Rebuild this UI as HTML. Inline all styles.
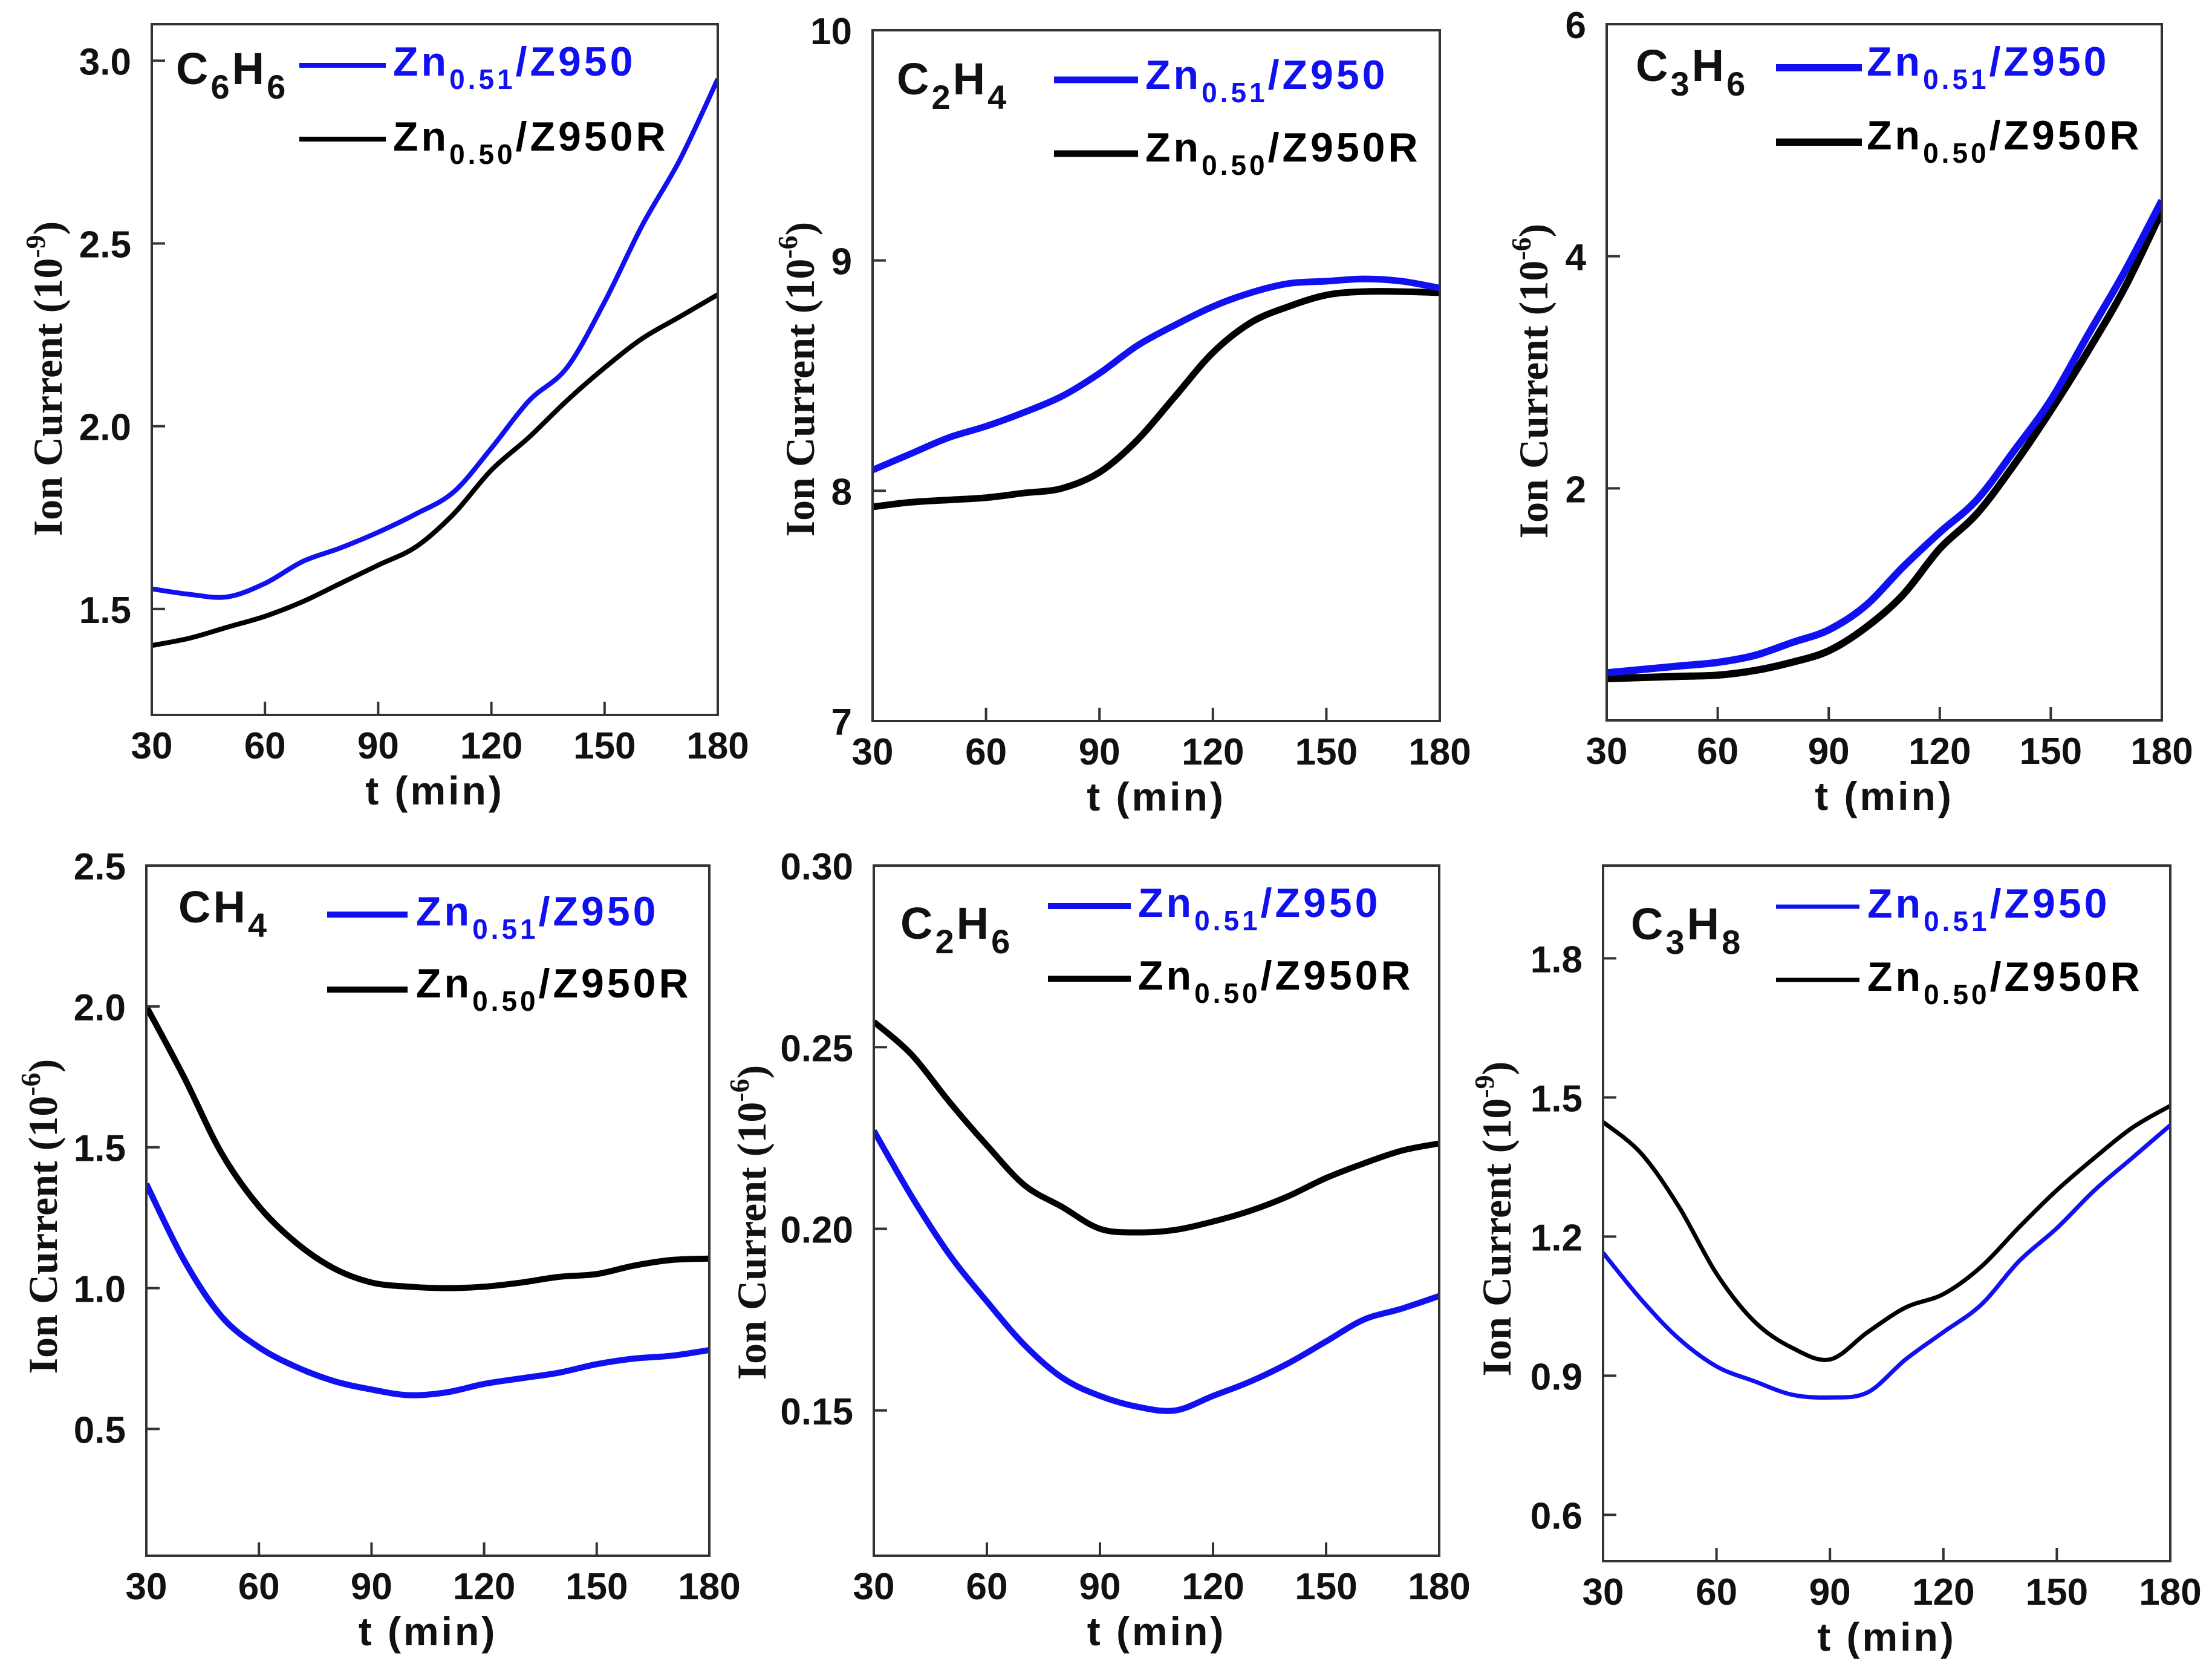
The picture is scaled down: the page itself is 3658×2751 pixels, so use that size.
<!DOCTYPE html>
<html><head><meta charset="utf-8"><style>
html,body{margin:0;padding:0;background:#fff;}
svg{display:block;}
text{font-family:"Liberation Sans",Arial,sans-serif;font-weight:bold;}
.serif{font-family:"Liberation Serif","Times New Roman",serif;font-weight:bold;}
</style></head><body>
<svg id="fig" xmlns="http://www.w3.org/2000/svg" width="3658" height="2751" viewBox="0 0 3658 2751"></svg>
<script>
const tValues=[30,40,50,60,70,80,90,100,110,120,130,140,150,160,170,180];
const xTicks=[30,60,90,120,150,180];
const c6h6Blue=[1.555,1.54,1.533,1.57,1.63,1.667,1.71,1.76,1.82,1.94,2.07,2.16,2.34,2.55,2.73,2.95];
const c6h6Black=[1.40,1.42,1.45,1.48,1.52,1.57,1.62,1.67,1.76,1.88,1.97,2.07,2.16,2.24,2.30,2.36];
const c2h4Blue=[8.09,8.16,8.23,8.28,8.34,8.41,8.51,8.63,8.72,8.80,8.86,8.90,8.91,8.92,8.91,8.88];
const c2h4Black=[7.93,7.95,7.96,7.97,7.99,8.01,8.08,8.22,8.41,8.60,8.73,8.80,8.85,8.865,8.865,8.86];
const c3h6Blue=[0.41,0.44,0.47,0.50,0.56,0.67,0.78,0.99,1.32,1.62,1.90,2.32,2.76,3.32,3.87,4.48];
const c3h6Black=[0.36,0.37,0.38,0.39,0.43,0.50,0.60,0.80,1.08,1.48,1.78,2.20,2.67,3.18,3.73,4.39];
const ch4Blue=[1.37,1.10,0.90,0.79,0.72,0.67,0.64,0.62,0.63,0.66,0.68,0.70,0.73,0.75,0.76,0.78];
const ch4Black=[2.0,1.75,1.48,1.29,1.16,1.07,1.02,1.005,1.0,1.005,1.02,1.04,1.05,1.08,1.10,1.105];
const c2h6Blue=[0.227,0.209,0.193,0.180,0.168,0.159,0.154,0.151,0.150,0.154,0.158,0.163,0.169,0.175,0.178,0.1815];
const c2h6Black=[0.257,0.248,0.235,0.223,0.212,0.206,0.200,0.199,0.1997,0.202,0.205,0.209,0.214,0.218,0.2215,0.2235];
const c3h8Blue=[1.165,1.065,0.98,0.92,0.888,0.859,0.853,0.864,0.935,0.994,1.053,1.147,1.218,1.30,1.37,1.44];
const c3h8Black=[1.447,1.38,1.265,1.12,1.017,0.96,0.935,0.994,1.047,1.076,1.135,1.22,1.30,1.37,1.435,1.482];
const c6h6Ticks=["1.5","2.0","2.5","3.0"];
const c2h4Ticks=["7","8","9","10"];
const c3h6Ticks=["2","4","6"];
const ch4Ticks=["0.5","1.0","1.5","2.0","2.5"];
const c2h6Ticks=["0.15","0.20","0.25","0.30"];
const c3h8Ticks=["0.6","0.9","1.2","1.5","1.8"];

const panels=[
 {id:'c6h6',L:251,R:1187,T:40,B:1182,ymin:1.21,ymax:3.10,ticks:c6h6Ticks,blue:c6h6Blue,black:c6h6Black,exp:'-9',sub:['C','6','H','6'],lw:8,
  yt:{x:80,y:626},cmp:{dx:40,dy:99},ln:{x1:495,x2:638,by:68,ky:190},tx:{x:650,by:85,ky:209}},
 {id:'c2h4',L:1443,R:2381,T:50,B:1192,ymin:7,ymax:10,ticks:c2h4Ticks,blue:c2h4Blue,black:c2h4Black,exp:'-6',sub:['C','2','H','4'],lw:11,
  yt:{x:1324,y:627},cmp:{dx:40,dy:106},ln:{x1:1743,x2:1882,by:82,ky:204},tx:{x:1894,by:97,ky:217}},
 {id:'c3h6',L:2657,R:3575,T:40,B:1191,ymin:0,ymax:6,ticks:c3h6Ticks,blue:c3h6Blue,black:c3h6Black,exp:'-6',sub:['C','3','H','6'],lw:12,
  yt:{x:2537,y:630},cmp:{dx:48,dy:94},ln:{x1:2937,x2:3079,by:72,ky:195},tx:{x:3087,by:85,ky:207}},
 {id:'ch4',L:242,R:1173,T:1431,B:2572,ymin:0.05,ymax:2.5,ticks:ch4Ticks,blue:ch4Blue,black:ch4Black,exp:'-6',sub:['CH','4'],lw:10,
  yt:{x:72,y:2011},cmp:{dx:53,dy:94},ln:{x1:541,x2:674,by:81,ky:205},tx:{x:688,by:99,ky:218}},
 {id:'c2h6',L:1445,R:2380,T:1431,B:2572,ymin:0.11,ymax:0.30,ticks:c2h6Ticks,blue:c2h6Blue,black:c2h6Black,exp:'-6',sub:['C','2','H','6'],lw:10,
  yt:{x:1244,y:2021},cmp:{dx:44,dy:121},ln:{x1:1733,x2:1870,by:67,ky:187},tx:{x:1882,by:85,ky:205}},
 {id:'c3h8',L:2651,R:3589,T:1431,B:2581,ymin:0.5,ymax:2.0,ticks:c3h8Ticks,blue:c3h8Blue,black:c3h8Black,exp:'-9',sub:['C','3','H','8'],lw:7,
  yt:{x:2476,y:2015},cmp:{dx:46,dy:122},ln:{x1:2937,x2:3075,by:68,ky:189},tx:{x:3088,by:86,ky:207}}
];
const NS='http://www.w3.org/2000/svg';
const svg=document.getElementById('fig');
function mk(tag,attrs,parent){const e=document.createElementNS(NS,tag);for(const k in attrs)e.setAttribute(k,attrs[k]);(parent||svg).appendChild(e);return e;}
function smooth(pts){let d='M'+pts[0][0].toFixed(1)+','+pts[0][1].toFixed(1);
 for(let i=0;i<pts.length-1;i++){const p0=pts[Math.max(0,i-1)],p1=pts[i],p2=pts[i+1],p3=pts[Math.min(pts.length-1,i+2)];
  const c1=[p1[0]+(p2[0]-p0[0])/6,p1[1]+(p2[1]-p0[1])/6],c2=[p2[0]-(p3[0]-p1[0])/6,p2[1]-(p3[1]-p1[1])/6];
  d+=' C'+c1[0].toFixed(1)+','+c1[1].toFixed(1)+' '+c2[0].toFixed(1)+','+c2[1].toFixed(1)+' '+p2[0].toFixed(1)+','+p2[1].toFixed(1);}
 return d;}
panels.forEach(p=>{
 const g=mk('g',{});
 
 
 const xs=t=>p.L+(t-30)/150*(p.R-p.L);
 const ys=v=>p.B-(v-p.ymin)/(p.ymax-p.ymin)*(p.B-p.T);
 const clip=mk('clipPath',{id:'cl-'+p.id},g);
 mk('rect',{x:p.L,y:p.T,width:p.R-p.L,height:p.B-p.T},clip);
 [['black',p.black,'#000'],['blue',p.blue,'#1010f0']].forEach(([nm,arr,col])=>{
  const pts=tValues.map((t,i)=>[xs(t),ys(arr[i])]);
  const path=mk('path',{d:smooth(pts),fill:'none',stroke:col,'stroke-width':p.lw,'stroke-linejoin':'round','clip-path':'url(#cl-'+p.id+')'},g);
  
  
 });
 const fr=mk('rect',{x:p.L,y:p.T,width:p.R-p.L,height:p.B-p.T,fill:'none',stroke:'#333','stroke-width':4},g);
 
 
 xTicks.forEach(t=>{const x=xs(t);
  mk('line',{x1:x,x2:x,y1:p.B,y2:p.B-22,stroke:'#333','stroke-width':4},g);
  const tx=mk('text',{x:x,y:p.B+72,'font-size':62,'text-anchor':'middle',fill:'#111'},g);
  tx.textContent=t;
  
  
 });
 p.ticks.forEach(s=>{const y=ys(parseFloat(s));
  mk('line',{x1:p.L,x2:p.L+22,y1:y,y2:y,stroke:'#333','stroke-width':4},g);
  const tx=mk('text',{x:p.L-34,y:y+23,'font-size':62,'text-anchor':'end',fill:'#111'},g);
  tx.textContent=s;
  
  
 });
 const xt=mk('text',{x:(p.L+p.R)/2,y:p.B+148,'font-size':66,'letter-spacing':4,'text-anchor':'middle',fill:'#111'},g);
 xt.textContent='t (min)';
 
 
 const yt=mk('text',{x:0,y:0,'font-size':68,'text-anchor':'middle',class:'serif',fill:'#111',transform:'translate('+(p.yt.x+22)+','+p.yt.y+') rotate(-90)'},g);
 
 
 const a=mk('tspan',{},yt);a.textContent='Ion Current (10';
 const b=mk('tspan',{'font-size':46,dy:-28},yt);b.textContent=p.exp;
 const c=mk('tspan',{dy:28},yt);c.textContent=')';
 const cl=mk('text',{x:p.L+p.cmp.dx,y:p.T+p.cmp.dy,'font-size':74,'letter-spacing':4,fill:'#111'},g);
 
 
 p.sub.forEach((s,i)=>{const isSub=i%2===1;const ts=mk('tspan',isSub?{'font-size':56,dy:24}:(i>0?{dy:-24}:{}),cl);ts.textContent=s;});
 [['blue','#1010f0','0.51','/Z950',p.ln.by,p.tx.by],['black','#000','0.50','/Z950R',p.ln.ky,p.tx.ky]].forEach(([nm,col,sb,tail,ly,ty])=>{
  const lg=mk('g',{},g);
  
  
  mk('line',{x1:p.ln.x1,x2:p.ln.x2,y1:p.T+ly,y2:p.T+ly,stroke:col,'stroke-width':p.lw},lg);
  const t=mk('text',{x:p.tx.x,y:p.T+ty,'font-size':68,'letter-spacing':5,fill:col},lg);
  const t1=mk('tspan',{},t);t1.textContent='Zn';
  const t2=mk('tspan',{'font-size':46,dy:22},t);t2.textContent=sb;
  const t3=mk('tspan',{dy:-22},t);t3.textContent=tail;
 });
});
</script>
</body></html>
